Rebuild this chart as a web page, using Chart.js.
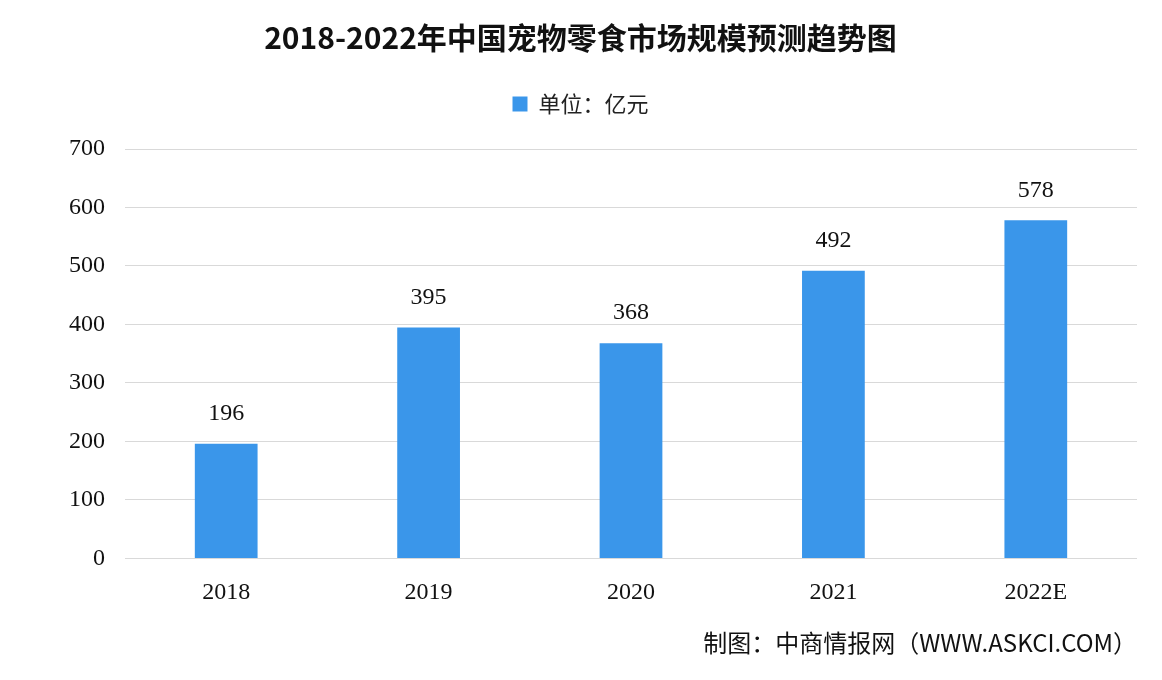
<!DOCTYPE html>
<html>
<head>
<meta charset="utf-8">
<script src="https://cdn.jsdelivr.net/npm/chart.js@4.4.0/dist/chart.umd.min.js"></script>
<style>
  html, body { margin: 0; padding: 0; background: #fff; }
  #wrap { width: 1162px; height: 680px; }
</style>
</head>
<body>
<div id="wrap"><canvas id="myChart"></canvas></div>
<script>
const years = ['2018', '2019', '2020', '2021', '2022E'];
const marketSize = [196, 395, 368, 492, 578];
const yTicks = [0, 100, 200, 300, 400, 500, 600, 700];

const cjk = '"Noto Sans CJK SC", sans-serif';
const num = '"Liberation Serif", serif';

// value labels above the bars
const barLabels = {
    id: 'barLabels',
    afterDatasetsDraw(chart) {
        const c = chart.ctx;
        const meta = chart.getDatasetMeta(0);
        c.save();
        c.font = '24px ' + num;
        c.fillStyle = '#111';
        c.textAlign = 'center';
        c.textBaseline = 'bottom';
        meta.data.forEach((bar, i) => {
            c.fillText(marketSize[i], bar.x, bar.y - 18);
        });
        c.restore();
    }
};

// extra room under the legend, and centre title + legend on the page
const legendGap = {
    id: 'legendGap',
    beforeInit(chart) {
        const fit = chart.legend.fit;
        chart.legend.fit = function () {
            fit.bind(chart.legend)();
            this.height += 24;
        };
    },
    afterLayout(chart) {
        chart.titleBlock.left += 12;
        chart.titleBlock.right += 12;
        chart.legend.left += 12;
        chart.legend.right += 12;
    }
};

new Chart(document.getElementById('myChart'), {
    type: 'bar',
    data: {
        labels: years,
        datasets: [{
            label: '单位：亿元',
            data: marketSize,
            backgroundColor: '#3a96ea',
            categoryPercentage: 1,
            barPercentage: 0.31
        }]
    },
    options: {
        responsive: true,
        maintainAspectRatio: false,
        animation: false,
        layout: { padding: { left: 0, right: 25, top: 0, bottom: 23 } },
        plugins: {
            title: {
                display: true,
                text: '2018-2022年中国宠物零食市场规模预测趋势图',
                color: '#111',
                font: { family: cjk, size: 30, weight: 'bold' },
                padding: { top: 20, bottom: 27 }
            },
            legend: {
                labels: {
                    color: '#222',
                    font: { family: cjk, size: 22 },
                    boxWidth: 15,
                    boxHeight: 15,
                    padding: 10
                }
            },
            subtitle: {
                display: true,
                position: 'bottom',
                align: 'end',
                text: '制图：中商情报网（WWW.ASKCI.COM）',
                color: '#111',
                font: { family: cjk, size: 24 },
                padding: { top: 9, bottom: 0 }
            },
            tooltip: { enabled: false }
        },
        scales: {
            x: {
                grid: { display: false },
                border: { display: false },
                ticks: { color: '#111', font: { family: num, size: 24 }, padding: 12 }
            },
            y: {
                min: 0,
                max: 700,
                afterBuildTicks(scale) { scale.ticks = yTicks.map(v => ({ value: v })); },
                afterFit(scale) { scale.width = 125; },
                grid: { color: '#d9d9d9', lineWidth: 1, drawTicks: false },
                border: { display: false },
                ticks: { color: '#111', font: { family: num, size: 24 }, padding: 20 }
            }
        }
    },
    plugins: [barLabels, legendGap]
});
</script>
</body>
</html>
